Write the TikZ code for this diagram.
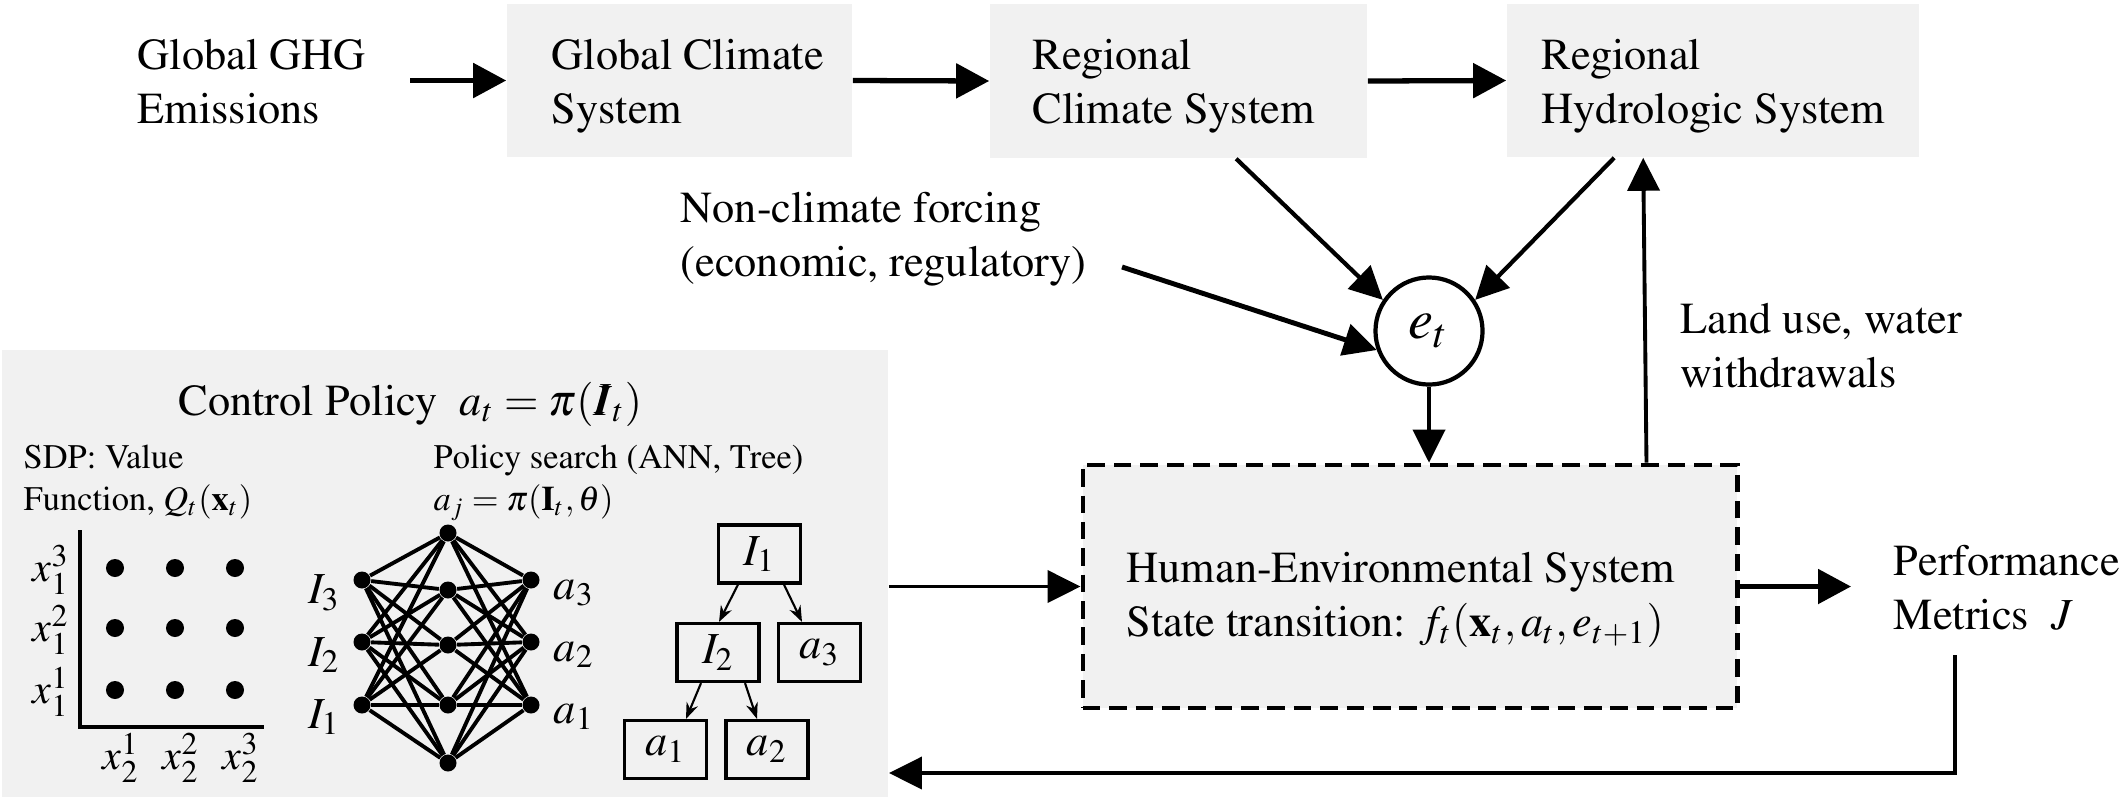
\documentclass[tikz,border=0pt]{standalone}
\usepackage[T1]{fontenc}
\usepackage{mathptmx}
\usepackage{amsmath}
\usepackage{bm}
\usetikzlibrary{arrows.meta,calc}
\definecolor{boxgray}{RGB}{241,241,241}
\newcommand\twol[1]{\begin{tabular}[t]{@{}l@{}}#1\end{tabular}}
\tikzset{
  main/.style={font=\fontsize{12.6}{15.6}\selectfont, inner sep=0pt},
  small/.style={font=\fontsize{9.8}{12}\selectfont, inner sep=0pt},
  lab/.style={font=\fontsize{12}{14}\selectfont, inner sep=0pt},
  graybox/.style={fill=boxgray, draw=none, inner sep=0pt},
  bigarr/.style={line width=1.5pt, -{Triangle[length=0.33cm,width=0.34cm]}},
  arr/.style={line width=1.1pt, -{Triangle[length=0.33cm,width=0.32cm]}},
  dot/.style={circle, fill=black, inner sep=0pt, minimum size=0.18cm},
  nn/.style={circle, fill=black, inner sep=0pt, minimum size=0.17cm},
  nnedge/.style={line width=1.1pt},
  tbox/.style={draw, line width=0.9pt, minimum width=0.82cm, minimum height=0.58cm, inner sep=0pt, font=\fontsize{12.6}{15.6}\selectfont},
  tarr/.style={line width=0.6pt, -{Stealth[length=0.16cm,width=0.12cm]}}
}
\begin{document}
\begin{tikzpicture}[x=0.01cm,y=-0.01cm]
\useasboundingbox (0,0) rectangle (2128,802);
% ---- top row
\node[graybox, minimum width=3.45cm, minimum height=1.53cm] (gcs) at (679.5,80.5) {};
\node[graybox, minimum width=3.77cm, minimum height=1.54cm] (rcs) at (1178.5,81) {};
\node[graybox, minimum width=4.12cm, minimum height=1.53cm] (rhs) at (1713,80.5) {};
\node[main, anchor=base west, inner xsep=0.44cm] (ghg) at (93,69) {\twol{Global GHG\\Emissions}};
\node[main, anchor=base west] (gcst) at (551,69) {\twol{Global Climate\\System}};
\node[main, anchor=base west] (rcst) at (1032,69) {\twol{Regional\\Climate System}};
\node[main, anchor=base west] (rhst) at (1541,69) {\twol{Regional\\Hydrologic System}};
\draw[bigarr] (ghg.east |- gcs.west) -- (gcs.west);
\draw[bigarr] (gcs.east) -- (rcs.west);
\draw[bigarr] (rcs.east) -- (rhs.west);
% ---- e_t
\node[circle, draw, line width=1.2pt, minimum size=1.07cm, inner sep=0pt, font=\fontsize{16}{18}\selectfont] (et) at (1429,331) {$e_t$};
\node[main, anchor=base west] (nc) at (680,222) {\twol{Non-climate forcing\\(economic, regulatory)}};
\coordinate (ncs) at (1122,267);
\draw[arr, line width=1.4pt] (ncs) -- (et.200);
\draw[arr, line width=1.2pt] ($(rcs.south west)+(247,0)$) -- (et.146);
\draw[arr, line width=1.2pt] ($(rhs.south west)+(108,0)$) -- (et.34);
% ---- HES
\node[draw, fill=boxgray, line width=1.3pt, dash pattern=on 5pt off 2.5pt, minimum width=6.54cm, minimum height=2.43cm, inner sep=0pt] (hes) at (1410,586.5) {};
\node[main, anchor=base west] (hest) at (1126,582) {\twol{Human-Environmental System\\State transition: $f_t(\mathbf{x}_t, a_t, e_{t+1})$}};
\draw[arr] (et.south) -- (et.south |- hes.north);
\draw[arr] ($(hes.north east)+(-93,0)$) -- ($(rhs.south west)+(137,0)$);
\node[main, anchor=base west] (lu) at (1680,333) {\twol{Land use, water\\withdrawals}};
% ---- control box
\node[graybox, minimum width=8.86cm, minimum height=4.47cm] (ctrl) at (445,573.5) {};
\draw[arr] (ctrl.east |- hes.west) -- (hes.west);
\node[main, anchor=base west, inner xsep=0.42cm] (perf) at (1851,575) {\twol{Performance\\Metrics\ \ $J$}};
\draw[bigarr] (hes.east) -- (hes.east -| perf.west);
\coordinate (fb) at (1955,655);
\draw[arr] (fb) |- ($(ctrl.east)+(0,199.5)$);
% ---- control policy contents
\node[main, anchor=base west] (cpt) at (178,415) {Control Policy\ \ $a_t = \pi(\bm{I}_t)$};
\node[small, anchor=base west] (sdp) at (23,468) {\twol{SDP: Value\\Function, $Q_t(\mathbf{x}_t)$}};
\node[small, anchor=base west] (ps) at (433,468) {\twol{Policy search (ANN, Tree)\\$a_j = \pi(\mathbf{I}_t, \theta)$}};
% grid
\coordinate (ax0) at (80,530);
\coordinate (axo) at (80,727);
\coordinate (ax1) at (264,727);
\draw[line width=1.1pt] (ax0) -- (axo) -- (ax1);
\foreach \i/\x in {1/115,2/175,3/235}{
  \foreach \j/\y in {1/690,2/628,3/568}{
    \node[dot] (g\i\j) at (\x,\y) {};
  }
  \node[lab] (xl\i) at (\x+6,758) {$x_2^{\i}$};
}
\foreach \j/\y in {1/690,2/628,3/568}{
  \node[lab] (yl\j) at (51,\y+2) {$x_1^{\j}$};
}
% ANN
\foreach \k/\y in {3/580,2/642,1/705}{
  \node[nn] (in\k) at (362,\y) {};
  \node[nn] (out\k) at (531,\y) {};
}
\foreach \k/\y in {0/533,1/590,2/645,3/705,4/763}{
  \node[nn] (h\k) at (448,\y) {};
}
\foreach \a in {1,2,3}{
  \foreach \b in {0,...,4}{
    \draw[nnedge] (in\a) -- (h\b);
    \draw[nnedge] (h\b) -- (out\a);
  }
}
\node[main] (il3) at (324,593) {$I_3$};
\node[main] (il2) at (324,655) {$I_2$};
\node[main] (il1) at (324,717) {$I_1$};
\node[main] (al3) at (574,593) {$a_3$};
\node[main] (al2) at (574,655) {$a_2$};
\node[main] (al1) at (574,717) {$a_1$};
% tree
\node[tbox] (t1) at (759.5,554) {$I_1$};
\node[tbox] (t2) at (718,652.5) {$I_2$};
\node[tbox] (t3) at (819.5,652.5) {$a_3$};
\node[tbox] (t4) at (665.5,749.5) {$a_1$};
\node[tbox] (t5) at (767,749.5) {$a_2$};
\draw[tarr] ($(t1.south)+(-21.5,0)$) -- ($(t2.north)+(1,0)$);
\draw[tarr] ($(t1.south)+(24.5,0)$) -- ($(t3.north)+(-17.5,0)$);
\draw[tarr] ($(t2.south)+(-17,0)$) -- ($(t4.north)+(20.5,0)$);
\draw[tarr] ($(t2.south)+(27,0)$) -- ($(t5.north)+(-10,0)$);
\end{tikzpicture}
\end{document}
